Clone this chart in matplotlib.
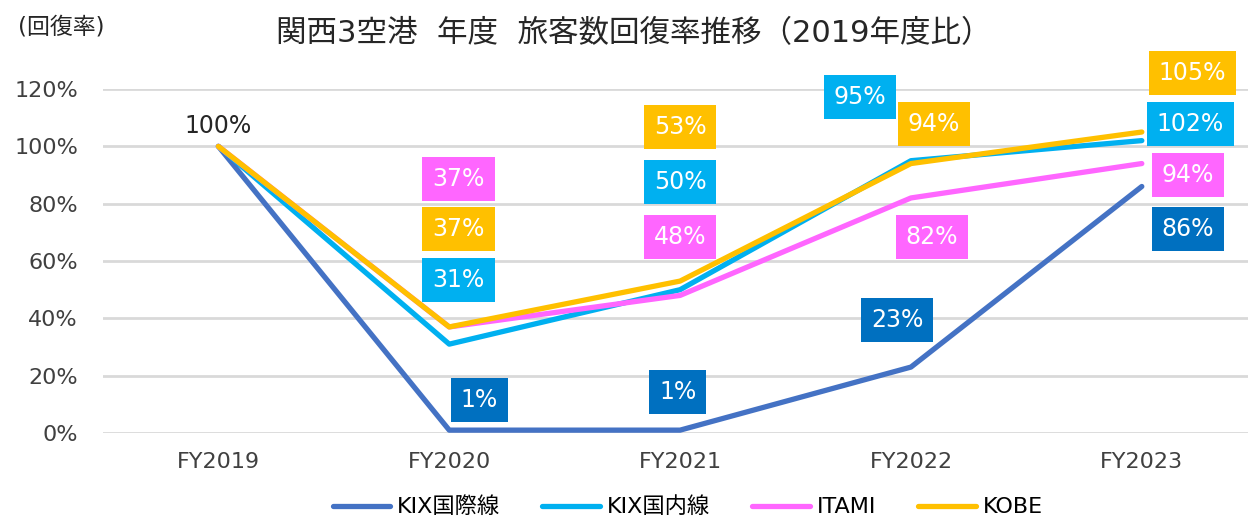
import matplotlib.pyplot as plt
from matplotlib.ticker import FuncFormatter

plt.rcParams['font.family'] = ['DejaVu Sans', 'Noto Sans CJK JP']

years = ['FY2019', 'FY2020', 'FY2021', 'FY2022', 'FY2023']
series_names = ['KIX国際線', 'KIX国内線', 'ITAMI', 'KOBE']
kix_intl = [100, 1, 1, 23, 86]
kix_dom = [100, 31, 50, 95, 102]
itami = [100, 37, 48, 82, 94]
kobe = [100, 37, 53, 94, 105]
series = [kix_intl, kix_dom, itami, kobe]

line_colors = ['#4472C4', '#00B0F0', '#FF66FF', '#FFC000']
box_colors = ['#0070C0', '#00B0F0', '#FF66FF', '#FFC000']

# label centres (x, y in data units) for FY2020..FY2023, per series
label_pos = [
    [(1.13, 11.5), (1.99, 14.3), (2.94, 39.4), (4.20, 71.2)],
    [(1.04, 53.4), (2.00, 87.6), (2.78, 117.2), (4.21, 107.8)],
    [(1.04, 88.6), (2.00, 68.4), (3.09, 68.4), (4.20, 90.0)],
    [(1.04, 71.2), (2.00, 106.7), (3.10, 107.8), (4.22, 125.6)],
]

fig = plt.figure(figsize=(12.48, 5.2), dpi=100)
ax = fig.add_axes([0.0825, 0.1673, 0.9175, 0.6615])

x = list(range(len(years)))
for vals, name, c in zip(series, series_names, line_colors):
    ax.plot(x, vals, color=c, lw=3.8, label=name, solid_capstyle='round', zorder=3)

for vals, pos, c in zip(series, label_pos, box_colors):
    for v, (lx, ly) in zip(vals[1:], pos):
        ax.text(lx, ly, f'{v}%', color='white', fontsize=17, ha='center', va='center',
                bbox=dict(boxstyle='square,pad=0.42', fc=c, ec='none'), zorder=5, clip_on=False)

ax.text(0, 107.1, f'{kix_intl[0]}%', color='#262626', fontsize=17, ha='center', va='center')

ax.set_xlim(-0.5, 4.46)
ax.set_ylim(0, 120)
ax.set_yticks(range(0, 121, 20))
ax.yaxis.set_major_formatter(FuncFormatter(lambda v, p: f'{v:.0f}%'))
ax.set_xticks(x)
ax.set_xticklabels(years)
ax.tick_params(axis='both', length=0, labelsize=16, colors='#404040')
ax.tick_params(axis='x', pad=14)
ax.tick_params(axis='y', pad=18)
ax.grid(axis='y', color='#D9D9D9', lw=2)
ax.set_axisbelow(True)
for s in ax.spines.values():
    s.set_visible(False)

fig.text(0.508, 0.935, '関西3空港  年度  旅客数回復率推移（2019年度比）', fontsize=22,
         ha='center', va='center', color='#262626')
fig.text(0.049, 0.948, '(回復率)', fontsize=16.5, ha='center', va='center', color='#262626')

fig.legend(loc='center', bbox_to_anchor=(0.551, 0.025), ncol=4, frameon=False,
           fontsize=16, handlelength=2.6, handletextpad=0.3, columnspacing=1.9)

fig.savefig('out.png', dpi=100)
